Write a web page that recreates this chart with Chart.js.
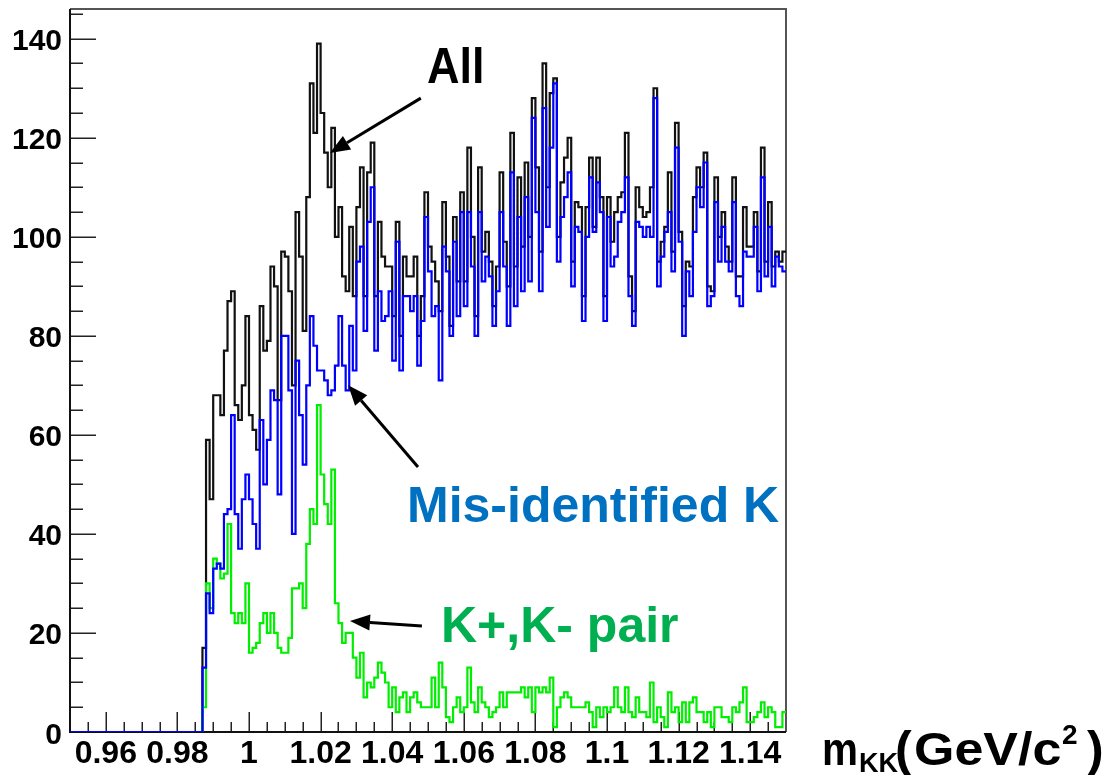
<!DOCTYPE html>
<html>
<head>
<meta charset="utf-8">
<title>m_KK distribution</title>
<script src="https://cdn.jsdelivr.net/npm/chart.js@4.4.1/dist/chart.umd.min.js"></script>
<style>
  html, body { margin: 0; padding: 0; background: #ffffff; }
  #wrap { width: 1116px; height: 775px; }
</style>
</head>
<body>
<div id="wrap"><canvas id="c" width="1116" height="775"></canvas></div>
<script>
// Histogram binning: 200 bins of 1 MeV from 0.95 to 1.15 GeV/c^2
const binLow = 0.95;
const binHigh = 1.15;
const binWidth = 0.001;

// All K-candidate pairs
const allCounts = [
  0,0,0,0,0,0,0,0,0,0, 0,0,0,0,0,0,0,0,0,0, 0,0,0,0,0,0,0,0,0,0, 0,0,0,0,0,0,0,
  17,59,47,68,68,64,77,87,89,66,
  63,70,84,64,61,57,86,77,79,94,
  90,67,97,96,89,70,105,96,81,108,
  131,121,139,125,117,110,122,100,106,92,
  89,102,88,106,114,88,113,119,88,103,
  96,94,94,84,103,80,96,92,92,96,
  80,88,109,98,95,91,85,107,96,82,
  104,91,109,91,118,100,84,114,97,101,
  95,86,94,113,99,90,121,94,112,98,
  115,100,128,114,97,135,110,129,132,100,
  111,116,120,95,107,106,88,106,116,102,
  116,108,88,108,99,105,108,109,121,92,
  85,110,106,104,105,110,130,95,99,102,
  113,97,123,101,86,95,94,108,114,110,
  117,90,89,112,100,105,98,95,112,92,
  92,106,98,98,105,93,118,95,107,94,
  97,95,97
];

// Pairs with a mis-identified kaon
const misIdCounts = [
  0,0,0,0,0,0,0,0,0,0, 0,0,0,0,0,0,0,0,0,0, 0,0,0,0,0,0,0,0,0,0, 0,0,0,0,0,0,0,
  13,28,24,33,34,33,44,45,64,44,
  37,47,52,47,42,37,63,50,59,69,
  67,48,80,80,69,40,75,64,54,70,
  84,78,73,73,71,68,69,74,84,74,
  69,82,73,95,98,81,103,110,77,89,
  83,84,89,75,99,73,88,88,85,88,
  74,83,104,93,84,86,71,98,93,80,
  99,84,105,86,105,94,80,105,91,96,
  92,82,89,105,94,82,113,86,104,89,
  108,91,124,105,89,126,102,118,131,95,
  104,108,113,90,102,101,83,100,112,101,
  111,105,83,104,94,96,103,105,112,88,
  82,103,102,100,102,100,128,90,96,101,
  105,93,118,99,80,93,88,101,110,106,
  115,86,88,107,95,102,95,93,107,88,
  86,97,96,96,102,89,112,92,102,90,
  96,94,93
];

// True K+ K- pairs
const kkPairCounts = [
  0,0,0,0,0,0,0,0,0,0, 0,0,0,0,0,0,0,0,0,0, 0,0,0,0,0,0,0,0,0,0, 0,0,0,0,0,0,0,
  5,30,25,35,34,31,32,42,24,22,
  24,22,30,16,17,18,22,24,20,24,
  20,17,16,16,19,29,29,30,25,38,
  45,42,66,52,46,42,53,26,22,18,
  20,20,15,11,16,7,10,9,11,14,
  12,10,5,9,4,7,8,4,7,8,
  6,5,5,5,11,5,14,9,3,2,
  5,7,4,5,13,6,4,9,6,5,
  3,4,5,8,5,8,8,8,8,9,
  7,9,4,9,8,9,8,11,1,5,
  7,8,7,5,5,5,5,6,4,1,
  5,3,5,4,5,9,5,4,9,4,
  3,7,4,4,3,10,2,5,3,1,
  8,4,5,2,6,2,6,7,4,4,
  2,4,1,5,5,3,3,2,5,4,
  6,9,2,2,3,4,6,3,5,4,
  1,1,4
];

// Axis ticks and labels
const xTickValues = [0.96, 0.98, 1.00, 1.02, 1.04, 1.06, 1.08, 1.10, 1.12, 1.14];
const xTickLabels = ['0.96', '0.98', '1', '1.02', '1.04', '1.06', '1.08', '1.1', '1.12', '1.14'];
const yTickValues = [0, 20, 40, 60, 80, 100, 120, 140];
const yTickLabels = ['0', '20', '40', '60', '80', '100', '120', '140'];
const yMax = 146;

// Annotation arrows, in axis units: [x, y] tail -> head
const annotationArrows = [
  { from: [1.0480, 128.0], to: [1.0226, 116.9] },
  { from: [1.0472, 53.5],  to: [1.0277, 70.0] },
  { from: [1.0483, 21.4],  to: [1.0282, 22.4] }
];

const FONT = "'Liberation Sans', Arial, Helvetica, sans-serif";

// Turn bin contents into the corner points of a step outline
function histPoints(counts) {
  const pts = counts.map((v, i) => ({ x: binLow + i * binWidth, y: v }));
  pts.push({ x: binHigh, y: counts[counts.length - 1] });
  return pts;
}

function drawArrow(ctx, x0, y0, x1, y1) {
  const ang = Math.atan2(y1 - y0, x1 - x0);
  const headLen = 20, headHalf = 8;
  const bx = x1 - headLen * Math.cos(ang), by = y1 - headLen * Math.sin(ang);
  ctx.beginPath();
  ctx.moveTo(x0, y0);
  ctx.lineTo(bx, by);
  ctx.lineWidth = 3;
  ctx.stroke();
  ctx.beginPath();
  ctx.moveTo(x1, y1);
  ctx.lineTo(bx + headHalf * Math.sin(ang), by - headHalf * Math.cos(ang));
  ctx.lineTo(bx - headHalf * Math.sin(ang), by + headHalf * Math.cos(ang));
  ctx.closePath();
  ctx.fill();
}

function fillTextScaled(ctx, text, x, y, sx) {
  ctx.save();
  ctx.translate(x, y);
  ctx.scale(sx, 1);
  ctx.fillText(text, 0, 0);
  ctx.restore();
}

// ROOT-style frame with inward ticks, plus labels and annotations
const rootFrame = {
  id: 'rootFrame',
  beforeDatasetsDraw(chart) {
    const { ctx, chartArea: a, scales: { x, y } } = chart;
    ctx.save();
    ctx.lineCap = 'butt';
    ctx.strokeStyle = '#222';
    ctx.lineWidth = 1.5;
    ctx.beginPath();
    for (let i = 1; i * 5 < yMax; i++) {
      const v = i * 5;
      const py = Math.round(y.getPixelForValue(v)) + 0.25;
      const len = (v % 20 === 0) ? 26 : 13;
      ctx.moveTo(a.left, py);
      ctx.lineTo(a.left + len, py);
    }
    for (let i = 1; i < 40; i++) {
      const v = binLow + i * 0.005;
      const px = Math.round(x.getPixelForValue(v)) + 0.25;
      const len = (i % 4 === 2) ? 20 : 10;
      ctx.moveTo(px, a.bottom);
      ctx.lineTo(px, a.bottom - len);
    }
    ctx.stroke();

    ctx.lineWidth = 2;
    ctx.strokeStyle = '#555';
    ctx.beginPath();
    ctx.moveTo(a.left, a.top);
    ctx.lineTo(a.right, a.top);
    ctx.lineTo(a.right, a.bottom);
    ctx.stroke();
    ctx.strokeStyle = '#111';
    ctx.beginPath();
    ctx.moveTo(a.left, a.top);
    ctx.lineTo(a.left, a.bottom);
    ctx.lineTo(a.right, a.bottom);
    ctx.stroke();
    ctx.restore();
  },
  afterDraw(chart) {
    const { ctx, scales: { x, y } } = chart;
    ctx.save();
    ctx.fillStyle = '#000';
    ctx.textBaseline = 'alphabetic';

    // y tick labels
    ctx.font = 'bold 30px ' + FONT;
    ctx.textAlign = 'right';
    yTickValues.forEach((v, i) => {
      ctx.fillText(yTickLabels[i], 62, y.getPixelForValue(v) + 11.5);
    });

    // x tick labels
    ctx.font = 'bold 32px ' + FONT;
    ctx.textAlign = 'center';
    xTickValues.forEach((v, i) => {
      ctx.fillText(xTickLabels[i], x.getPixelForValue(v), 763);
    });

    // x axis title: m_KK (GeV/c^2)
    ctx.textAlign = 'left';
    ctx.font = 'bold 46px ' + FONT;
    fillTextScaled(ctx, 'm', 822, 765, 0.88);
    ctx.font = 'bold 27px ' + FONT;
    ctx.fillText('KK', 859, 772);
    ctx.font = 'bold 50px ' + FONT;
    ctx.fillText('(', 895, 766);
    ctx.font = 'bold 46px ' + FONT;
    fillTextScaled(ctx, 'GeV/c', 914, 765, 1.13);
    ctx.font = 'bold 28px ' + FONT;
    ctx.fillText('2', 1062, 744);
    ctx.font = 'bold 50px ' + FONT;
    ctx.fillText(')', 1087, 766);

    // arrows
    ctx.strokeStyle = '#000';
    ctx.fillStyle = '#000';
    annotationArrows.forEach(a => {
      drawArrow(ctx,
        x.getPixelForValue(a.from[0]), y.getPixelForValue(a.from[1]),
        x.getPixelForValue(a.to[0]), y.getPixelForValue(a.to[1]));
    });

    // series labels
    ctx.font = 'bold 50px ' + FONT;
    ctx.fillStyle = '#000000';
    fillTextScaled(ctx, 'All', 427, 83, 0.9);
    ctx.fillStyle = '#0070C0';
    ctx.fillText('Mis-identified K', 407, 522);
    ctx.fillStyle = '#00B050';
    ctx.fillText('K+,K- pair', 441, 642);
    ctx.restore();
  }
};

const lineStyle = {
  stepped: 'before',
  borderWidth: 2.2,
  pointRadius: 0,
  pointHoverRadius: 0,
  fill: false,
  tension: 0,
  borderJoinStyle: 'miter'
};

new Chart(document.getElementById('c'), {
  type: 'line',
  data: {
    datasets: [
      Object.assign({ label: 'Mis-identified K', data: histPoints(misIdCounts), borderColor: '#0000ff' }, lineStyle),
      Object.assign({ label: 'K+,K- pair', data: histPoints(kkPairCounts), borderColor: '#00ee00' }, lineStyle),
      Object.assign({ label: 'All', data: histPoints(allCounts), borderColor: '#111111' }, lineStyle)
    ]
  },
  options: {
    responsive: false,
    animation: false,
    devicePixelRatio: 1,
    layout: { padding: { left: 70, top: 9, right: 330, bottom: 43 } },
    plugins: {
      legend: { display: false },
      tooltip: { enabled: false },
      title: { display: false }
    },
    scales: {
      x: { type: 'linear', min: binLow, max: binHigh, display: false },
      y: { type: 'linear', min: 0, max: yMax, display: false }
    }
  },
  plugins: [rootFrame]
});
</script>
</body>
</html>
